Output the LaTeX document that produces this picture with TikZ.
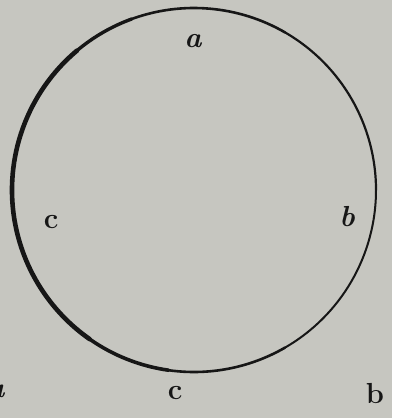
\documentclass[tikz,border=0pt]{standalone}
\definecolor{paper}{RGB}{198,198,192}
\definecolor{ink}{RGB}{22,22,22}
\tikzset{
  lbl/.style={inner sep=0pt, text=ink, font=\fontsize{29}{29}\selectfont\bfseries},
  lbli/.style={lbl, font=\fontsize{29}{29}\selectfont\bfseries\itshape},
  rim/.style={draw=ink, line cap=round}
}
\begin{document}
\begin{tikzpicture}[x=1pt,y=-1pt]
  \fill[paper] (0,0) rectangle (392,418);
  \useasboundingbox (0,0) rectangle (392,418);
  \coordinate (o) at (194,190);
  % outer rim, thin on right, heavier on left
  \draw[rim, line width=2.2pt] (o) ++(0:182) arc[start angle=0, end angle=-60, radius=182];
  \draw[rim, line width=2.6pt] (o) ++(-60:182) arc[start angle=-60, end angle=-110, radius=182];
  \draw[rim, line width=3.4pt] (o) ++(-110:182) arc[start angle=-110, end angle=-130, radius=182];
  \draw[rim, line width=4.6pt] (o) ++(-130:182) arc[start angle=-130, end angle=-235, radius=182];
  \draw[rim, line width=3.6pt] (o) ++(-235:182) arc[start angle=-235, end angle=-262, radius=182];
  \draw[rim, line width=2.6pt] (o) ++(-262:182) arc[start angle=-262, end angle=-300, radius=182];
  \draw[rim, line width=2.0pt] (o) ++(-300:182) arc[start angle=-300, end angle=-360, radius=182];
  % labels
  \node[lbli] (a)  at (193,41)  {a};
  \node[lbl]  (c1) at (51,222)  {c};
  \node[lbli] (b1) at (347,217) {b};
  \node[lbli] (a2) at (-4,391)  {a};
  \node[lbl]  (c2) at (175,393) {c};
  \node[lbl]  (b2) at (375,394) {b};
\end{tikzpicture}
\end{document}
